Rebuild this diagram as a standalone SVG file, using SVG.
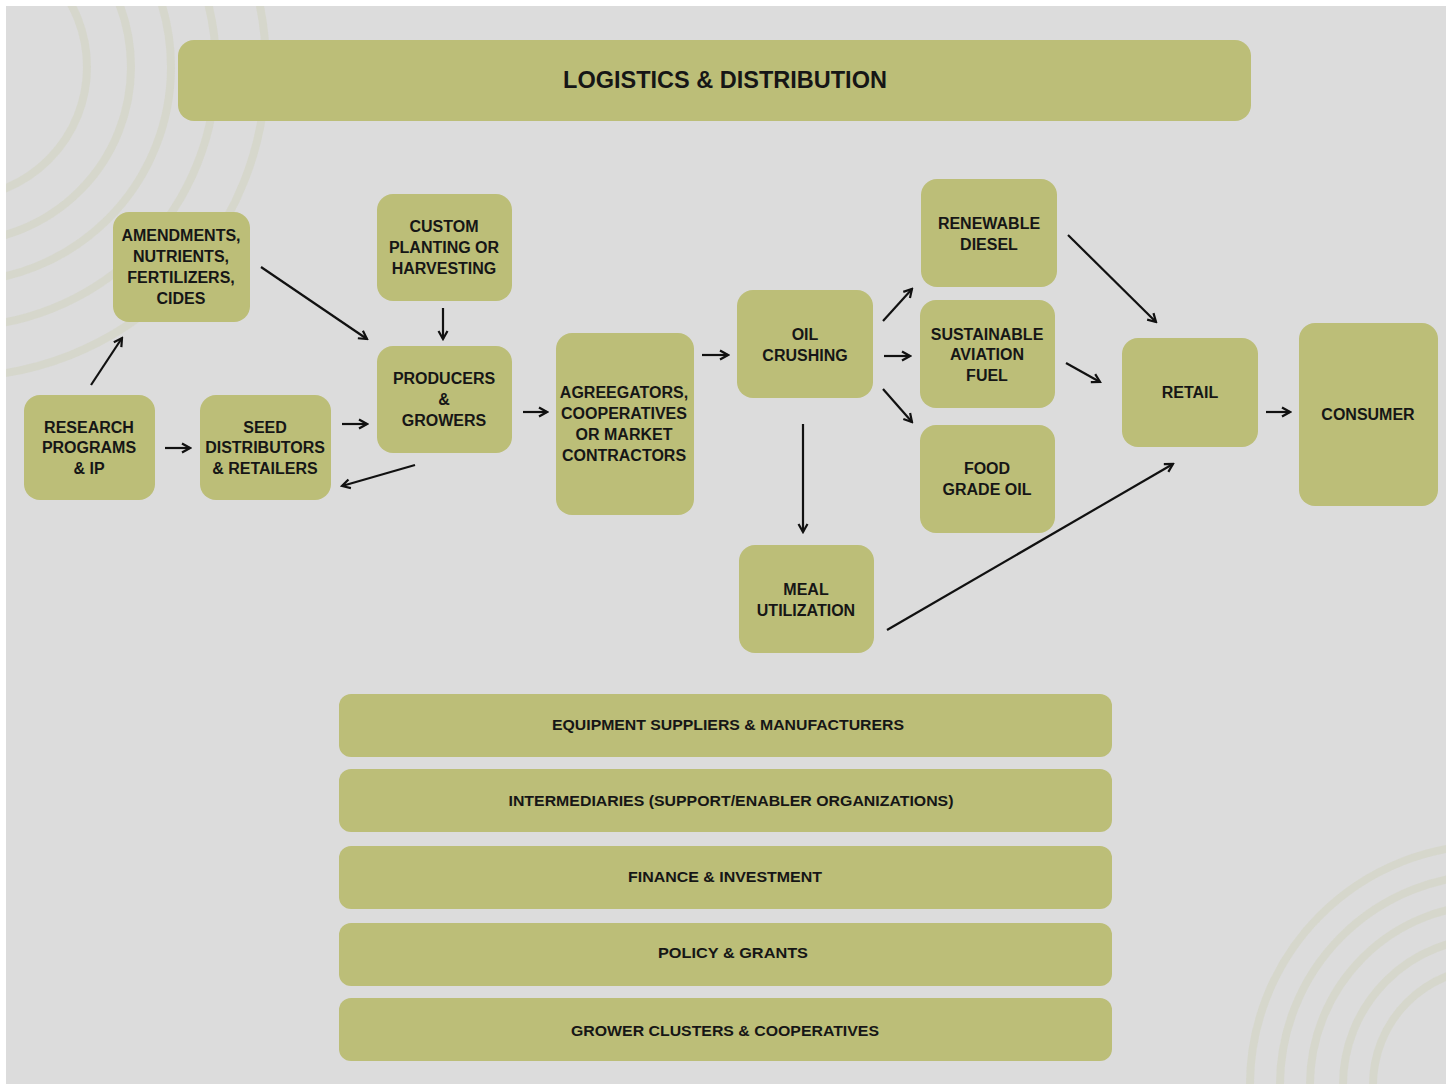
<svg xmlns="http://www.w3.org/2000/svg" width="1452" height="1084" viewBox="0 0 1452 1084">
<defs>
<style>
.bg{fill:#dcdcdc}
.deco{fill:none;stroke:#d2d4bf;stroke-width:8;opacity:0.55}
.box{fill:#bcbe78}
.t{font-family:"Liberation Sans",Arial,sans-serif;font-weight:bold;font-size:16px;fill:#161616;text-anchor:middle}
.title{font-size:23.5px}
.bar{font-size:15px}
.c{fill:none;stroke:#111;stroke-width:2.2;marker-end:url(#ah)}
</style>
<marker id="ah" viewBox="0 0 12 12" refX="10" refY="6" markerWidth="12" markerHeight="12" markerUnits="userSpaceOnUse" orient="auto">
<path d="M2,1.5 L10,6 L2,10.5" fill="none" stroke="#111" stroke-width="2.2"/>
</marker>
<clipPath id="clip"><rect x="6" y="6" width="1440" height="1078"/></clipPath>
</defs>
<rect width="1452" height="1084" fill="#ffffff"/>
<rect class="bg" x="6" y="6" width="1440" height="1078"/>
<g id="decoration" clip-path="url(#clip)">
<circle class="deco" cx="-44" cy="67" r="131"/>
<circle class="deco" cx="-44" cy="67" r="175"/>
<circle class="deco" cx="-44" cy="67" r="215"/>
<circle class="deco" cx="-44" cy="67" r="260"/>
<circle class="deco" cx="-44" cy="67" r="310"/>
<circle class="deco" cx="1490" cy="1085" r="117"/>
<circle class="deco" cx="1490" cy="1085" r="147"/>
<circle class="deco" cx="1490" cy="1085" r="180"/>
<circle class="deco" cx="1490" cy="1085" r="210"/>
<circle class="deco" cx="1490" cy="1085" r="240"/>
</g>
<g id="logistics"><rect class="box" x="178" y="40" width="1073" height="81" rx="16"/><text class="t title" x="725" y="88">LOGISTICS &amp; DISTRIBUTION</text></g>
<g id="amendments"><rect class="box" x="113" y="212" width="137" height="110" rx="16"/><text class="t" x="181"><tspan x="181" y="241">AMENDMENTS,</tspan><tspan x="181" y="262">NUTRIENTS,</tspan><tspan x="181" y="283">FERTILIZERS,</tspan><tspan x="181" y="304">CIDES</tspan></text></g>
<g id="custom"><rect class="box" x="377" y="194" width="135" height="107" rx="16"/><text class="t"><tspan x="444" y="232">CUSTOM</tspan><tspan x="444" y="253">PLANTING OR</tspan><tspan x="444" y="274">HARVESTING</tspan></text></g>
<g id="producers"><rect class="box" x="377" y="346" width="135" height="107" rx="16"/><text class="t"><tspan x="444" y="384">PRODUCERS</tspan><tspan x="444" y="405">&amp;</tspan><tspan x="444" y="426">GROWERS</tspan></text></g>
<g id="research"><rect class="box" x="24" y="395" width="131" height="105" rx="16"/><text class="t"><tspan x="89" y="433">RESEARCH</tspan><tspan x="89" y="453">PROGRAMS</tspan><tspan x="89" y="474">&amp; IP</tspan></text></g>
<g id="seed"><rect class="box" x="200" y="395" width="131" height="105" rx="16"/><text class="t"><tspan x="265" y="433">SEED</tspan><tspan x="265" y="453">DISTRIBUTORS</tspan><tspan x="265" y="474">&amp; RETAILERS</tspan></text></g>
<g id="aggregators"><rect class="box" x="556" y="333" width="138" height="182" rx="16"/><text class="t"><tspan x="624" y="398">AGREEGATORS,</tspan><tspan x="624" y="419">COOPERATIVES</tspan><tspan x="624" y="440">OR MARKET</tspan><tspan x="624" y="461">CONTRACTORS</tspan></text></g>
<g id="oil"><rect class="box" x="737" y="290" width="136" height="108" rx="16"/><text class="t"><tspan x="805" y="340">OIL</tspan><tspan x="805" y="361">CRUSHING</tspan></text></g>
<g id="meal"><rect class="box" x="739" y="545" width="135" height="108" rx="16"/><text class="t"><tspan x="806" y="595">MEAL</tspan><tspan x="806" y="616">UTILIZATION</tspan></text></g>
<g id="renewable"><rect class="box" x="921" y="179" width="136" height="108" rx="16"/><text class="t"><tspan x="989" y="229">RENEWABLE</tspan><tspan x="989" y="250">DIESEL</tspan></text></g>
<g id="saf"><rect class="box" x="920" y="300" width="135" height="108" rx="16"/><text class="t"><tspan x="987" y="340">SUSTAINABLE</tspan><tspan x="987" y="360">AVIATION</tspan><tspan x="987" y="381">FUEL</tspan></text></g>
<g id="food"><rect class="box" x="920" y="425" width="135" height="108" rx="16"/><text class="t"><tspan x="987" y="474">FOOD</tspan><tspan x="987" y="495">GRADE OIL</tspan></text></g>
<g id="retail"><rect class="box" x="1122" y="338" width="136" height="109" rx="16"/><text class="t" x="1190" y="398">RETAIL</text></g>
<g id="consumer"><rect class="box" x="1299" y="323" width="139" height="183" rx="16"/><text class="t" x="1368" y="420">CONSUMER</text></g>
<g id="equipment"><rect class="box" x="339" y="694" width="773" height="63" rx="12"/><text class="t bar" x="728" y="730" textLength="352" lengthAdjust="spacingAndGlyphs">EQUIPMENT SUPPLIERS &amp; MANUFACTURERS</text></g>
<g id="intermediaries"><rect class="box" x="339" y="769" width="773" height="63" rx="12"/><text class="t bar" x="731" y="806" textLength="445" lengthAdjust="spacingAndGlyphs">INTERMEDIARIES (SUPPORT/ENABLER ORGANIZATIONS)</text></g>
<g id="finance"><rect class="box" x="339" y="846" width="773" height="63" rx="12"/><text class="t bar" x="725" y="882" textLength="194" lengthAdjust="spacingAndGlyphs">FINANCE &amp; INVESTMENT</text></g>
<g id="policy"><rect class="box" x="339" y="923" width="773" height="63" rx="12"/><text class="t bar" x="733" y="958" textLength="150" lengthAdjust="spacingAndGlyphs">POLICY &amp; GRANTS</text></g>
<g id="clusters"><rect class="box" x="339" y="998" width="773" height="63" rx="12"/><text class="t bar" x="725" y="1036" textLength="308" lengthAdjust="spacingAndGlyphs">GROWER CLUSTERS &amp; COOPERATIVES</text></g>
<g id="connectors">
<line class="c" x1="91" y1="385" x2="122" y2="338"/>
<line class="c" x1="261" y1="267" x2="367" y2="339"/>
<line class="c" x1="443" y1="308" x2="443" y2="339"/>
<line class="c" x1="342" y1="424" x2="367" y2="424"/>
<line class="c" x1="415" y1="465" x2="342" y2="486"/>
<line class="c" x1="165" y1="448" x2="190" y2="448"/>
<line class="c" x1="523" y1="412" x2="547" y2="412"/>
<line class="c" x1="702" y1="355" x2="728" y2="355"/>
<line class="c" x1="883" y1="321" x2="912" y2="289"/>
<line class="c" x1="884" y1="356" x2="910" y2="356"/>
<line class="c" x1="883" y1="389" x2="912" y2="422"/>
<line class="c" x1="803" y1="424" x2="803" y2="532"/>
<line class="c" x1="1068" y1="235" x2="1156" y2="322"/>
<line class="c" x1="1066" y1="363" x2="1100" y2="382"/>
<line class="c" x1="887" y1="630" x2="1173" y2="464"/>
<line class="c" x1="1266" y1="412" x2="1290" y2="412"/>
</g>
</svg>
